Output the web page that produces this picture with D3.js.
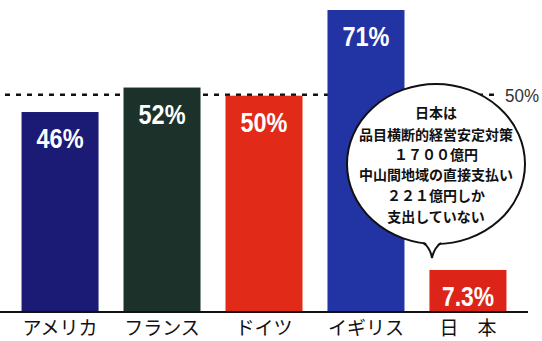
<!DOCTYPE html>
<html>
<head>
<meta charset="utf-8">
<script src="https://cdn.jsdelivr.net/npm/d3@7"></script>
<style>
  html, body { margin: 0; padding: 0; background: #fff; }
  svg { display: block; }
</style>
</head>
<body>
<svg id="chart" width="542" height="341"></svg>
<script>
// ---- data ----
const categories = ["アメリカ", "フランス", "ドイツ", "イギリス", "日本"];
const tickLabels = ["アメリカ", "フランス", "ドイツ", "イギリス", "日　本"];
const values = [46, 52, 50, 71, 7.3];
const valueLabels = ["46%", "52%", "50%", "71%", "7.3%"];
const barColors = ["#1b1a74", "#1b3129", "#e22a18", "#2233a4", "#dc2418"];
const referenceValue = 50;
const referenceLabel = "50%";
const noteLines = ["日本は", "品目横断的経営安定対策", "１７００億円", "中山間地域の直接支払い", "２２１億円しか", "支出していない"];

// ---- layout ----
const svg = d3.select("#chart");
const baseY = 312;
const x = d3.scaleBand().domain(categories).range([9, 519]).paddingInner(0.245).paddingOuter(0.123);
const y = d3.scaleLinear().domain([-3, 71]).range([baseY, 10]);

const labelFont = "'Liberation Sans','Arial',sans-serif";
const jpFont = "'Noto Sans CJK JP','Noto Sans CJK SC',sans-serif";

// reference dashed line at 50%
svg.append("line")
  .attr("x1", 5).attr("x2", 500)
  .attr("y1", y(referenceValue) - 1).attr("y2", y(referenceValue) - 1)
  .attr("stroke", "#111").attr("stroke-width", 2.6)
  .attr("stroke-dasharray", "5,6");

svg.append("text")
  .attr("x", 505).attr("y", y(referenceValue) + 6)
  .attr("font-family", labelFont).attr("font-size", 19)
  .attr("textLength", 34).attr("lengthAdjust", "spacingAndGlyphs")
  .attr("fill", "#333")
  .text(referenceLabel);

// bars
svg.selectAll("rect.bar").data(categories).enter().append("rect")
  .attr("class", "bar")
  .attr("x", d => x(d))
  .attr("width", x.bandwidth())
  .attr("y", (d, i) => y(values[i]))
  .attr("height", (d, i) => baseY - y(values[i]))
  .attr("fill", (d, i) => barColors[i]);

// value labels
svg.selectAll("text.val").data(categories).enter().append("text")
  .attr("class", "val")
  .attr("x", d => x(d) + x.bandwidth() / 2)
  .attr("y", (d, i) => y(values[i]) + 27)
  .attr("dominant-baseline", "central")
  .attr("text-anchor", "middle")
  .attr("font-family", labelFont)
  .attr("font-weight", "bold")
  .attr("font-size", 27)
  .attr("textLength", (d, i) => valueLabels[i].length > 3 ? 52 : 47)
  .attr("lengthAdjust", "spacingAndGlyphs")
  .attr("fill", "#fff")
  .text((d, i) => valueLabels[i]);

// baseline axis
const axis = d3.axisBottom(x).tickSize(0).tickFormat((d, i) => tickLabels[i]);
const gAxis = svg.append("g").attr("transform", `translate(0,${baseY})`).call(axis);
gAxis.select(".domain").attr("d", "M0,0H528")
  .attr("stroke", "#111").attr("stroke-width", 2);
gAxis.selectAll(".tick text")
  .attr("y", 10)
  .attr("font-family", jpFont)
  .attr("font-size", 19)
  .attr("fill", "#111");

// callout bubble
const cx = 436, cy = 164, rx = 89, ry = 80;
const bubble = svg.append("g");
bubble.append("ellipse")
  .attr("cx", cx).attr("cy", cy).attr("rx", rx).attr("ry", ry)
  .attr("fill", "#fff").attr("stroke", "#111").attr("stroke-width", 2);
// tail
bubble.append("path")
  .attr("d", "M424,241 Q430,246 432,258 Q434,247 441,241 Z")
  .attr("fill", "#fff");
bubble.append("path")
  .attr("d", "M423,243 Q430,247 432,258 Q434,248 441,243")
  .attr("fill", "none").attr("stroke", "#111").attr("stroke-width", 2);

const lineY = [112, 134, 154, 174, 195, 216];
bubble.selectAll("text").data(noteLines).enter().append("text")
  .attr("x", cx)
  .attr("y", (d, i) => lineY[i])
  .attr("dominant-baseline", "central")
  .attr("text-anchor", "middle")
  .attr("font-family", jpFont)
  .attr("font-weight", "bold")
  .attr("font-size", 14)
  .attr("fill", "#111")
  .each(function(d) {
    if (d.length >= 10) d3.select(this).attr("textLength", 154).attr("lengthAdjust", "spacingAndGlyphs");
  })
  .text(d => d);
</script>
</body>
</html>
